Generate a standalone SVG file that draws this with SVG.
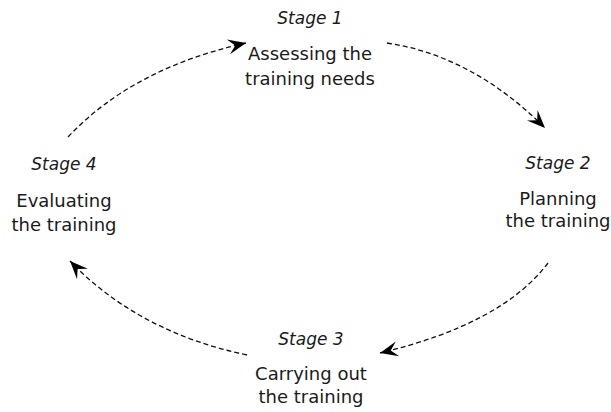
<svg xmlns="http://www.w3.org/2000/svg" width="611" height="412" viewBox="0 0 611 412">
<style>
text{font-family:"DejaVu Sans","Liberation Sans",sans-serif;font-size:18px;fill:#1a1a1a;text-anchor:middle}
.st{font-style:italic;font-size:17px}
.c{fill:none;stroke:#111;stroke-width:1.3;stroke-dasharray:5 3}
</style>
<defs>
<marker id="ah" markerUnits="userSpaceOnUse" markerWidth="22" markerHeight="18" viewBox="-19 -9 21 18" refX="0" refY="0" orient="auto">
<path d="M0,0 L-18,-7.5 L-11,0 L-18,7.5 Z" fill="#000"/>
</marker>
</defs>
<rect width="611" height="412" fill="#fff"/>
<g id="connectors">
<path class="c" d="M68,137 Q133,68 246,43" marker-end="url(#ah)"/>
<path class="c" d="M387,43 Q473,56 545,128" marker-end="url(#ah)"/>
<path class="c" d="M548,263 Q502,324 380,353" marker-end="url(#ah)"/>
<path class="c" d="M247,355 Q138,332 70,261" marker-end="url(#ah)"/>
</g>
<g id="stage1">
<text class="st" x="310" y="24">Stage 1</text>
<text x="310" y="60">Assessing the</text>
<text x="310" y="85">training needs</text>
</g>
<g id="stage2">
<text class="st" x="558" y="169">Stage 2</text>
<text x="558" y="205">Planning</text>
<text x="558" y="227">the training</text>
</g>
<g id="stage3">
<text class="st" x="311" y="345">Stage 3</text>
<text x="311" y="380">Carrying out</text>
<text x="311" y="403">the training</text>
</g>
<g id="stage4">
<text class="st" x="64" y="170">Stage 4</text>
<text x="64" y="207">Evaluating</text>
<text x="64" y="231">the training</text>
</g>
</svg>
